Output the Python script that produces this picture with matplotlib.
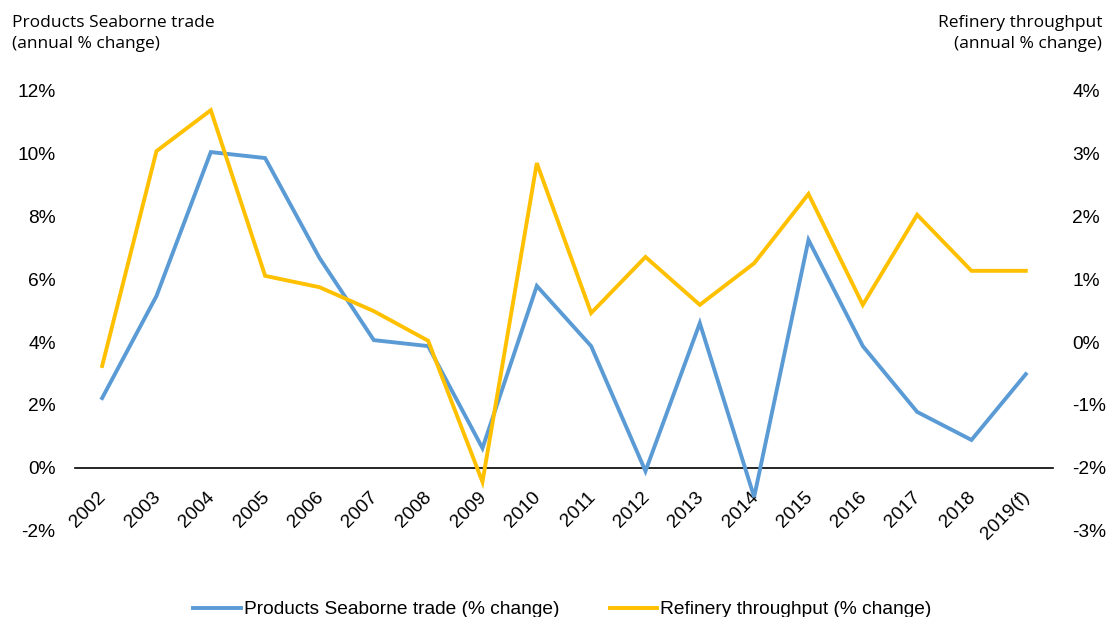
import matplotlib
matplotlib.use('Agg')
import matplotlib.pyplot as plt
import matplotlib.transforms as mtransforms

years = ['2002', '2003', '2004', '2005', '2006', '2007', '2008', '2009', '2010',
         '2011', '2012', '2013', '2014', '2015', '2016', '2017', '2018', '2019(f)']
seaborne = [2.22, 5.46, 10.03, 9.84, 6.67, 4.06, 3.87, 0.63, 5.78,
            3.87, -0.10, 4.60, -0.92, 7.24, 3.87, 1.78, 0.89, 2.98]
refinery = [-0.38, 3.03, 3.68, 1.05, 0.87, 0.49, 0.02, -2.22, 2.84,
            0.46, 1.35, 0.59, 1.25, 2.35, 0.59, 2.02, 1.13, 1.13]

blue = '#5B9BD5'
gold = '#FFC000'
plt.rcParams['font.family'] = ['Liberation Sans', 'DejaVu Sans']

fig = plt.figure(figsize=(11.19, 6.17), dpi=100)
ax = fig.add_axes([0.067, 0.1394, 0.874, 0.7147])
ax2 = ax.twinx()

x = list(range(len(years)))
l1, = ax.plot(x, seaborne, color=blue, lw=2.8, solid_joinstyle='miter', zorder=3)
l2, = ax2.plot(x, refinery, color=gold, lw=2.8, solid_joinstyle='miter', zorder=3)

ax.set_xlim(-0.5, len(years) - 0.5)
ax.set_ylim(-2, 12)
ax2.set_ylim(-3, 4)
ax.set_yticks(range(-2, 13, 2))
ax.set_yticklabels([f'{v}%' for v in range(-2, 13, 2)])
ax2.set_yticks(range(-3, 5))
ax2.set_yticklabels([f'{v}%' for v in range(-3, 5)])

for a in (ax, ax2):
    for s in ('top', 'right', 'left'):
        a.spines[s].set_visible(False)
    a.tick_params(axis='y', length=0, labelsize=13.8, pad=14)
ax2.spines['bottom'].set_visible(False)

# category axis sits on the zero line
ax.spines['bottom'].set_position(('data', 0))
ax.spines['bottom'].set_linewidth(1.2)
ax.spines['bottom'].set_zorder(2)
ax.set_xticks(x)
ax.set_xticklabels(years, rotation=45, ha='right', va='center', rotation_mode='anchor')
ax.tick_params(axis='x', length=0, labelsize=13.8, pad=19)
shift = mtransforms.ScaledTranslation(1 / 72, 0, fig.dpi_scale_trans)
for lbl in ax.get_xticklabels():
    lbl.set_transform(lbl.get_transform() + shift)

fig.text(0.011, 0.975, 'Products Seaborne trade\n(annual % change)', ha='left', va='top',
         fontsize=12.5, family=['Open Sans', 'DejaVu Sans'], linespacing=1.35)
fig.text(0.985, 0.975, 'Refinery throughput\n(annual % change)', ha='right', va='top',
         fontsize=12.5, family=['Open Sans', 'DejaVu Sans'], linespacing=1.35)

fig.legend([l1, l2], ['Products Seaborne trade (% change)', 'Refinery throughput (% change)'],
           loc='lower center', bbox_to_anchor=(0.5027, -0.03), ncol=2, frameon=False,
           fontsize=13.8, handlelength=2.5, handletextpad=0.15, columnspacing=2.6)

fig.savefig('out.png', dpi=100)
